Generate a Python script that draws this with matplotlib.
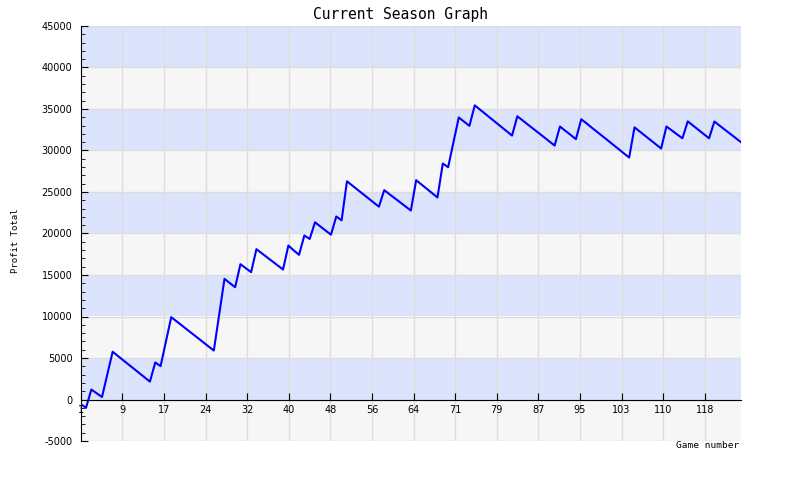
import matplotlib
matplotlib.use("Agg")
import matplotlib.pyplot as plt
from matplotlib.ticker import MultipleLocator

# profit total after each game
profit = [
    -550, -1000, 1200, 750, 300, 3030, 5750, 5240, 4720, 4210,
    3700, 3180, 2670, 2150, 4460, 4020, 6970, 9920, 9420, 8920,
    8410, 7910, 7410, 6900, 6400, 5900, 10200, 14540, 14030, 13530,
    16300, 15820, 15340, 18110, 17620, 17130, 16640, 16150, 15660, 18550,
    17970, 17430, 19760, 19340, 21350, 20850, 20350, 19860, 22050, 21590,
    26290, 25780, 25270, 24760, 24250, 23740, 23230, 25220, 24730, 24240,
    23750, 23260, 22770, 26420, 25900, 25380, 24860, 24340, 28430, 27990,
    30990, 33980, 33470, 32970, 35440, 34920, 34400, 33880, 33360, 32840,
    32320, 31800, 34120, 33620, 33110, 32610, 32110, 31610, 31100, 30600,
    32890, 32380, 31880, 31370, 33770, 33260, 32740, 32230, 31720, 31210,
    30690, 30180, 29660, 29150, 32790, 32280, 31770, 31260, 30750, 30240,
    32890, 32420, 31940, 31470, 33510, 33000, 32490, 31980, 31470, 33490,
    32990, 32490, 32000, 31500, 31000,
]
games = list(range(1, len(profit) + 1))

x_tick_labels = ['1', '9', '17', '24', '32', '40', '48', '56',
                 '64', '71', '79', '87', '95', '103', '110', '118']
y_ticks = list(range(-5000, 45001, 5000))

fig = plt.figure(figsize=(8, 4.8), dpi=100)
ax = fig.add_axes([80.7 / 800, 1 - 441 / 480, (741 - 80.7) / 800, (441 - 26) / 480])

# alternating bands
for lo in y_ticks[:-1]:
    col = '#dce3fc' if (lo // 5000) % 2 == 0 else '#f6f6f6'
    ax.axhspan(lo, lo + 5000, color=col, lw=0, zorder=0)

n = len(profit)
x_ticks = [1 + k * n / 16 for k in range(len(x_tick_labels))]

for y in y_ticks:
    ax.axhline(y, color='#dddddd', lw=1, zorder=1)
for x in x_ticks[1:]:
    ax.axvline(x, color='#dddddd', lw=1, zorder=1)

ax.plot(games, profit, color='#0000ff', lw=1.5, zorder=3)

ax.set_xlim(1, n)
ax.set_ylim(-5000, 45000)

for s in ['top', 'right']:
    ax.spines[s].set_visible(False)
ax.spines['bottom'].set_position(('data', 0))
ax.spines['bottom'].set_zorder(4)
ax.spines['left'].set_zorder(4)

ax.set_xticks(x_ticks)
ax.set_xticklabels(x_tick_labels, fontsize=7, family='DejaVu Sans')
ax.set_yticks(y_ticks)
ax.set_yticklabels([str(v) for v in y_ticks], fontsize=7, family='DejaVu Sans')
ax.yaxis.set_minor_locator(MultipleLocator(1000))
ax.tick_params(axis='y', which='major', direction='in', length=5, pad=6)
ax.tick_params(axis='y', which='minor', direction='in', length=3)
ax.tick_params(axis='x', which='major', direction='in', length=5, pad=4)

fig.text(400.7 / 800, 1 - 14 / 480, 'Current Season Graph', ha='center', va='center',
         family='DejaVu Sans Mono', fontsize=10.5)
fig.text(15 / 800, 1 - 241 / 480, 'Profit Total', rotation=90, ha='center', va='center',
         family='DejaVu Sans Mono', fontsize=6.5)
fig.text(739 / 800, 1 - 445 / 480, 'Game number', ha='right', va='center',
         family='DejaVu Sans Mono', fontsize=6.8)

fig.savefig('out.png', dpi=100)
